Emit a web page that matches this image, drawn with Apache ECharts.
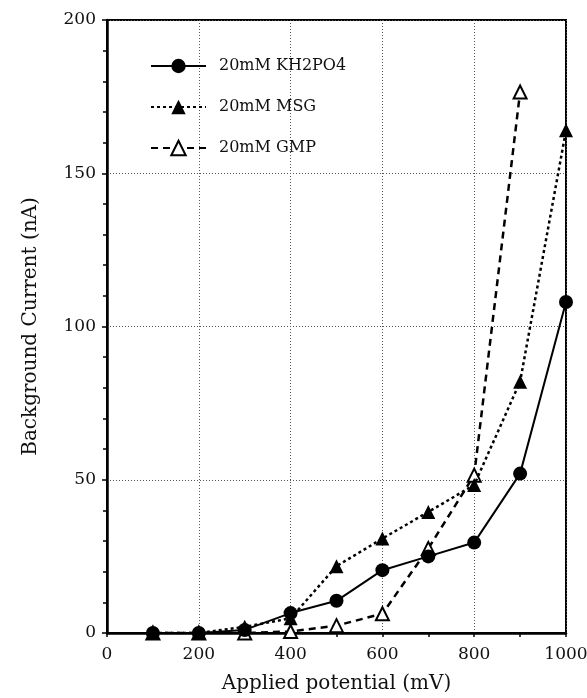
<!DOCTYPE html>
<html>
<head>
<meta charset="utf-8">
<script src="https://cdn.jsdelivr.net/npm/echarts@6/dist/echarts.min.js"></script>
<style>
  html, body { margin: 0; padding: 0; background: #fff; }
  #chart { width: 587px; height: 698px; }
</style>
</head>
<body>
<div id="chart"></div>
<script>
// applied potential (mV)
var potentials = [100, 200, 300, 400, 500, 600, 700, 800, 900, 1000];
// background current (nA)
var kh2po4 = [0, 0, 1, 6.5, 10.5, 20.5, 25, 29.5, 52, 108];
var msg = [0, 0, 2, 4.8, 21.8, 30.8, 39.5, 48.3, 82, 164];
var gmp = [0, 0, 0, 0.5, 2.4, 6.3, 27.6, 51.5, 176.5]; // no point at 1000

var names = ['20mM KH2PO4', '20mM MSG', '20mM GMP'];

function pairs(ys) {
    var out = [];
    for (var i = 0; i < ys.length; i++) out.push([potentials[i], ys[i]]);
    return out;
}

var font = '"DejaVu Serif", "Liberation Serif", serif';

var chart = echarts.init(document.getElementById('chart'));
chart.setOption({
    backgroundColor: '#fff',
    animation: false,
    grid: {
        left: 107, right: 21, top: 20, bottom: 65,
        outerBoundsMode: 'none', containLabel: false,
        show: true, borderColor: '#000', borderWidth: 2
    },
    legend: {
        data: names,
        orient: 'vertical',
        left: 145, top: 51,
        itemWidth: 55, itemHeight: 18, itemGap: 21,
        textStyle: { fontFamily: font, fontSize: 16, color: '#111', lineHeight: 20, padding: [0, 0, 0, 8] }
    },
    xAxis: {
        type: 'value',
        min: 0, max: 1000, interval: 200,
        name: 'Applied potential (mV)',
        nameLocation: 'middle', nameGap: 41,
        nameTextStyle: { fontFamily: font, fontSize: 20, color: '#111' },
        axisLine: { lineStyle: { color: '#000', width: 2.5 } },
        axisTick: { show: true, length: 4, lineStyle: { color: '#000', width: 1.5 } },
        minorTick: { show: true, splitNumber: 2, length: 4, lineStyle: { color: '#000', width: 1.5 } },
        axisLabel: {
            fontFamily: font, fontSize: 17, color: '#111', margin: 13,
            formatter: function (v) { return String(v); }
        },
        splitLine: { show: true, lineStyle: { color: '#555', type: [1, 2], width: 1 } }
    },
    yAxis: {
        type: 'value',
        min: 0, max: 200, interval: 50,
        name: 'Background Current (nA)',
        nameLocation: 'middle', nameGap: 66,
        nameTextStyle: { fontFamily: font, fontSize: 20, color: '#111' },
        axisLine: { show: true, lineStyle: { color: '#000', width: 2.5 } },
        axisTick: { show: true, length: 5, lineStyle: { color: '#000', width: 1.5 } },
        minorTick: { show: true, splitNumber: 5, length: 4, lineStyle: { color: '#000', width: 1.5 } },
        axisLabel: { fontFamily: font, fontSize: 17, color: '#111', margin: 11 },
        splitLine: { show: true, lineStyle: { color: '#555', type: [1, 2], width: 1 } }
    },
    series: [
        {
            name: names[2], type: 'line', data: pairs(gmp), z: 3,
            symbol: 'triangle', symbolSize: 13,
            itemStyle: { color: '#fff', borderColor: '#000', borderWidth: 2 },
            lineStyle: { color: '#000', width: 2.5, type: [7, 5] }
        },
        {
            name: names[1], type: 'line', data: pairs(msg), z: 4,
            symbol: 'triangle', symbolSize: 14,
            itemStyle: { color: '#000', borderColor: '#000', borderWidth: 0 },
            lineStyle: { color: '#000', width: 2.5, type: [3, 3] }
        },
        {
            name: names[0], type: 'line', data: pairs(kh2po4), z: 5,
            symbol: 'circle', symbolSize: 14,
            itemStyle: { color: '#000', borderColor: '#000', borderWidth: 0 },
            lineStyle: { color: '#000', width: 2 }
        }
    ]
});
</script>
</body>
</html>
